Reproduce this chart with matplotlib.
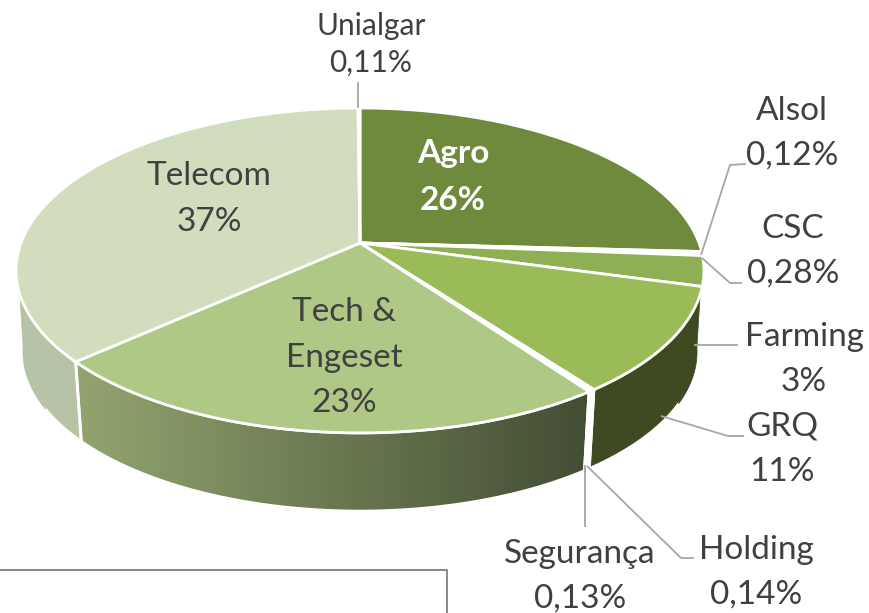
import matplotlib
matplotlib.use('Agg')
import matplotlib.pyplot as plt
import numpy as np
from matplotlib.patches import Polygon

plt.rcParams['font.family'] = ['Lato', 'DejaVu Sans']

# Slices, clockwise from 12 o'clock
categories = ['Agro', 'Alsol', 'CSC', 'Farming', 'GRQ', 'Holding', 'Segurança', 'Tech & Engeset', 'Telecom', 'Unialgar']
values = [25.9, 0.12, 0.28, 3, 10.6, 0.14, 0.13, 23.3, 36.6, 0.11]
value_labels = ['26%', '0,12%', '0,28%', '3%', '11%', '0,14%', '0,13%', '23%', '37%', '0,11%']
top_colors = ['#6F8A3D', '#8CAA50', '#8FAF53', '#8FAF53', '#9BBB59', '#AEC884', '#AEC884', '#AFC885', '#D2DDBD', '#D2DDBD']

# Pie geometry in pixels
cx, cy = 360, 243
R, S = 339, 157.8
shrink, depth = 0.98, 82


def top_xy(theta):
    # projective view of the circle, theta clockwise from the top
    u, v = np.sin(theta), np.cos(theta)
    d = 1 + 0.169 * v
    return cx + R * u / d, cy - S * v / d


def bottom_xy(theta):
    x, y = top_xy(theta)
    return cx + shrink * (x - cx), cy + shrink * (y - cy) + depth


fractions = np.array(values) / sum(values)
ends = np.cumsum(fractions) * 2 * np.pi
starts = ends - fractions * 2 * np.pi

fig = plt.figure(figsize=(8.69, 6.13), dpi=100)
ax = fig.add_axes([0, 0, 1, 1])

# Side walls
walls = {
    'GRQ': ('#3F4A22', '#3F4A22'),
    'Farming': ('#3F4A22', '#3F4A22'),
    'Holding': ('#FFFFFF', '#FFFFFF'),
    'Segurança': ('#FFFFFF', '#FFFFFF'),
    'Tech & Engeset': ('#92A570', '#434D33'),
    'Telecom': ('#B6C3A6', '#B6C3A6'),
}
for name, (c_left, c_right) in walls.items():
    i = categories.index(name)
    a = starts[i]
    b = min(ends[i], 1.62 * np.pi)
    t = np.linspace(a, b, 80)
    xt, yt = top_xy(t)
    xb, yb = bottom_xy(t)
    pts = np.r_[np.c_[xt, yt], np.c_[xb, yb][::-1]]
    poly = Polygon(pts, closed=True, facecolor='none', edgecolor='white', linewidth=2, zorder=3)
    ax.add_patch(poly)
    x0, x1 = pts[:, 0].min(), pts[:, 0].max()
    y0, y1 = pts[:, 1].min(), pts[:, 1].max()
    rgb0 = np.array(matplotlib.colors.to_rgb(c_left))
    rgb1 = np.array(matplotlib.colors.to_rgb(c_right))
    grad = np.linspace(0, 1, 256)[None, :, None] * (rgb1 - rgb0) + rgb0
    im = ax.imshow(grad, extent=[x0, x1, y1, y0], aspect='auto', zorder=2)
    clip = Polygon(pts, closed=True, transform=ax.transData)
    im.set_clip_path(clip)

# The walls run almost straight down at both sides of the pie
for a, e, b, col in [(108, 98, 118, '#3F4A22'), (252, 262, 240, '#B6C3A6')]:
    t_top = np.radians(np.linspace(a, b, 20))
    t_bot = np.radians(np.linspace(b, e, 20))
    pts = np.r_[np.c_[top_xy(t_top)], np.c_[bottom_xy(t_bot)]]
    ax.add_patch(Polygon(pts, closed=True, facecolor=col, edgecolor=col, linewidth=0.5, zorder=3.5))

# Top faces
for i, name in enumerate(categories):
    t = np.linspace(starts[i], ends[i], 200)
    xt, yt = top_xy(t)
    pts = np.r_[[[cx, cy]], np.c_[xt, yt]]
    ax.add_patch(Polygon(pts, closed=True, facecolor=top_colors[i], edgecolor='white',
                         linewidth=2, zorder=4))

# Leader lines
leader_color = '#A6A6A6'
leaders = [
    [(358, 82), (358, 108)],
    [(746, 164), (730, 165), (701, 255)],
    [(742, 283), (730, 283), (702, 258)],
    [(738, 345), (694, 345)],
    [(744, 436), (728, 436), (661, 416)],
    [(585, 527), (585, 465)],
    [(694, 558), (681, 558), (587, 466)],
]
for line in leaders:
    xs, ys = zip(*line)
    ax.plot(xs, ys, color=leader_color, linewidth=1.3, zorder=5, solid_capstyle='butt')

# Labels
fs = 24
text_color = '#404040'
labels = [
    ('Alsol', 792, 111), ('0,12%', 792, 156),
    ('CSC', 793, 229), ('0,28%', 793, 274),
    ('Farming', 804, 337), ('3%', 804, 382),
    ('GRQ', 782, 427), ('11%', 782, 472),
    ('Segurança', 580, 554), ('0,13%', 580, 599),
    ('Holding', 756, 550), ('0,14%', 756, 595),
    ('Telecom', 209, 176), ('37%', 209, 222),
    ('Tech &', 344, 312), ('Engeset', 344, 358), ('23%', 344, 403),
]
for txt, x, y in labels:
    ax.text(x, y, txt, color=text_color, fontsize=fs, ha='center', va='center', zorder=6)
ax.text(371, 26, 'Unialgar', color=text_color, fontsize=21.5, ha='center', va='center', zorder=6)
ax.text(371, 63, '0,11%', color=text_color, fontsize=21.5, ha='center', va='center', zorder=6)
ax.text(453, 154, 'Agro', color='white', fontsize=fs, fontweight='bold', ha='center', va='center', zorder=6)
ax.text(453, 200, '26%', color='white', fontsize=fs, fontweight='bold', ha='center', va='center', zorder=6)

# Box cut by the bottom edge
ax.plot([0, 447, 447], [570, 570, 613], color='#7F7F7F', linewidth=1.3, zorder=1)

ax.set_xlim(0, 869)
ax.set_ylim(613, 0)
ax.axis('off')
fig.savefig('out.png', dpi=100, facecolor='white')
